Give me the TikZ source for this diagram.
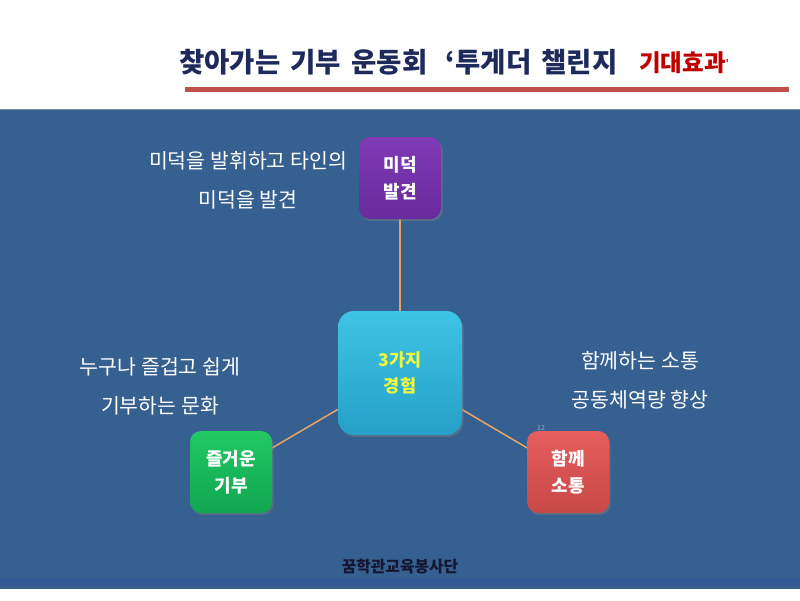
\documentclass[tikz,border=0pt]{standalone}
\usepackage{fontspec}
\setmainfont{Noto Sans CJK KR}
\usetikzlibrary{shadows}
\definecolor{panel}{HTML}{36608F}
\definecolor{navy}{HTML}{1F2A5C}
\definecolor{titlered}{HTML}{C00000}
\definecolor{barred}{HTML}{C0504D}
\definecolor{conn}{HTML}{E8A464}
\tikzset{
  box/.style={rounded corners=11pt, minimum width=82pt, minimum height=82pt,
    align=center, font=\bfseries\fontsize{18}{27}\selectfont, text=white,
    drop shadow={opacity=0.45, shadow xshift=1.5pt, shadow yshift=-2pt}},
  bigbox/.style={box, rounded corners=16pt, minimum width=124pt, minimum height=124pt,
    text={rgb,255:red,240;green,250;blue,60}, font=\bfseries\fontsize{17.5}{26}\selectfont},
  conline/.style={draw=conn, line width=1.5pt},
  desc/.style={text=white, align=center, font=\fontsize{20.5}{39}\selectfont}
}
\begin{document}
\begin{tikzpicture}[x=1pt,y=-1pt]
\useasboundingbox (0,0) rectangle (800,600);
\fill[white] (0,0) rectangle (800,600);
% panel
\fill[panel] (0,109) rectangle (800,589);
\fill[panel!92!blue] (0,578) rectangle (800,586);
\draw[panel!70!white, line width=0.8pt] (0,109) -- (800,109);
% title
\node[anchor=base west, text=navy, font=\bfseries\fontsize{27.5}{27}\selectfont, inner sep=0pt] (title) at (179,72) {찾아가는\hspace{4pt} 기부\hspace{4pt} 운동회\hspace{12pt} ‘투게더\hspace{4pt} 챌린지};
\node[anchor=base west, text=titlered, font=\bfseries\fontsize{23.5}{23}\selectfont, inner sep=0pt] (titleb) at (639,71) {기대효과\raisebox{5pt}{\fontsize{9}{9}\selectfont ’}};
\fill[barred] (185,87) rectangle (789,92);
% connectors (behind)
\coordinate (cc) at (400,373);
\coordinate (ct) at (400,178);
\coordinate (cl) at (231,472);
\coordinate (cr) at (568,472);
\draw[conline] (cc) -- (ct);
\draw[conline] (cc) -- (cl);
\draw[conline] (cc) -- (cr);
% boxes
\node[box, top color={rgb,255:red,128;green,58;blue,182}, bottom color={rgb,255:red,104;green,42;blue,156}] (virtue) at (ct) {미덕\\발견};
\node[box, top color={rgb,255:red,34;green,200;blue,100}, bottom color={rgb,255:red,16;green,166;blue,80}] (joy) at (cl) {즐거운\\기부};
\node[box, top color={rgb,255:red,230;green,94;blue,94}, bottom color={rgb,255:red,200;green,72;blue,72}] (comm) at (cr) {함께\\소통};
\node[bigbox, top color={rgb,255:red,62;green,196;blue,228}, bottom color={rgb,255:red,38;green,160;blue,200}] (center) at (cc) {3가지\\경험};
\node[text={rgb,255:red,150;green,170;blue,200}, font=\fontsize{7}{7}\selectfont, inner sep=0pt] (pnum) at (541,428) {12};
% descriptions
\node[desc] (d1) at (248,180) {미덕을 발휘하고 타인의\\미덕을 발견};
\node[desc] (d2) at (160,386) {누구나 즐겁고 쉽게\\기부하는 문화};
\node[desc] (d3) at (640,380) {함께하는 소통\\공동체역량 향상};
% footer
\node[text={rgb,255:red,20;green,22;blue,50}, font=\bfseries\fontsize{15.8}{15}\selectfont] (foot) at (400,567) {꿈학관교육봉사단};
\end{tikzpicture}
\end{document}
